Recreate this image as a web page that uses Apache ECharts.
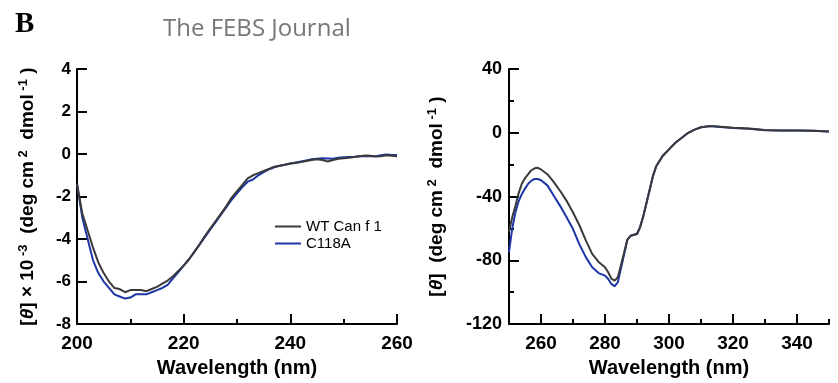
<!DOCTYPE html>
<html>
<head>
<meta charset="utf-8">
<script src="https://cdn.jsdelivr.net/npm/echarts@6/dist/echarts.min.js"></script>
<style>
  html, body { margin: 0; padding: 0; background: #fff; }
  #cd { width: 838px; height: 383px; }
</style>
</head>
<body>
<div id="cd"></div>
<script>
// far-UV CD (left panel)
const farNm = [200, 201, 202, 203, 204, 205, 206, 207, 208, 209, 210, 211, 212, 213, 214, 215, 216, 217, 218, 219, 220,
  221, 222, 223, 224, 225, 226, 227, 228, 229, 230, 231, 232, 233, 234, 235, 236, 237, 238, 239, 240,
  241, 242, 243, 244, 245, 246, 247, 248, 249, 250, 251, 252, 253, 254, 255, 256, 257, 258, 259, 260];
const farWT = [-1.4, -2.8, -3.6, -4.4, -5.1, -5.6, -6.0, -6.3, -6.35, -6.5, -6.4, -6.4, -6.4, -6.45, -6.35, -6.25, -6.1, -5.95, -5.75, -5.5, -5.25,
  -4.95, -4.6, -4.25, -3.85, -3.5, -3.15, -2.8, -2.45, -2.05, -1.75, -1.45, -1.15, -1.0, -0.9, -0.8, -0.7, -0.6, -0.55, -0.5, -0.45,
  -0.42, -0.38, -0.33, -0.28, -0.25, -0.28, -0.35, -0.28, -0.22, -0.2, -0.17, -0.14, -0.1, -0.07, -0.08, -0.12, -0.1, -0.06, -0.08, -0.1];
const farC118A = [-1.4, -3.0, -4.0, -5.0, -5.6, -6.0, -6.3, -6.6, -6.7, -6.8, -6.75, -6.6, -6.6, -6.6, -6.5, -6.4, -6.3, -6.15, -5.85, -5.55, -5.25,
  -4.95, -4.6, -4.25, -3.9, -3.55, -3.2, -2.85, -2.5, -2.15, -1.85, -1.55, -1.3, -1.2, -1.0, -0.85, -0.72, -0.62, -0.55, -0.5, -0.45,
  -0.4, -0.35, -0.3, -0.25, -0.22, -0.2, -0.21, -0.22, -0.18, -0.15, -0.14, -0.13, -0.11, -0.1, -0.1, -0.1, -0.06, -0.02, -0.04, -0.05];

// near-UV CD (right panel)
const nearNm = [250, 251, 252, 253, 254, 255, 256, 257, 258, 259, 260, 262, 264, 266, 268, 270, 272, 274, 276, 278, 280,
  281, 282, 283, 284, 285, 286, 287, 288, 289, 290, 291, 292, 293, 294, 295, 296, 298, 300, 302, 304, 306, 308, 310,
  313, 316, 320, 325, 330, 335, 340, 345, 350];
const nearWT = [-62, -53, -46, -38, -32, -28.5, -26, -23.5, -22.3, -22, -23, -26, -31, -36.5, -42.7, -50, -58, -67.5, -76, -81, -84.4,
  -87.5, -91.5, -92.7, -90.6, -83, -75, -67, -64.6, -64, -63.5, -59, -52, -43.7, -35.4, -27, -21, -14.6, -10.4, -6.3, -3.1, 0, 2, 3.5,
  4.2, 3.8, 3.1, 2.7, 1.7, 1.5, 1.5, 1.2, 0.8];
const nearC118A = [-75, -60, -50, -43, -38.5, -35, -32, -30, -29, -29, -29.8, -33, -39.5, -46, -53, -60.4, -70, -78, -84.4, -88, -89.6,
  -91.7, -94.8, -96.3, -93.75, -85, -76, -67, -64.6, -64, -63.5, -59, -52, -43.7, -35.4, -27, -21, -14.6, -10.4, -6.3, -3.1, 0, 2, 3.5,
  4.2, 3.6, 3.0, 2.5, 1.6, 1.5, 1.5, 1.2, 0.8];

const nearMajor = [260, 280, 300, 320, 340];
const nearMinor = [270, 290, 310, 330, 350];

const GRAY = '#3a3a3a';
const BLUE = '#1c36a6';
const FONT = 'Liberation Sans';

function pairs(xs, ys) {
  return xs.map((x, i) => [x, ys[i]]);
}

const xTickLabel = { color: '#000', fontFamily: FONT, fontWeight: 'bold', fontSize: 19, margin: 10 };
const yTickLabel = { color: '#000', fontFamily: FONT, fontWeight: 'bold', fontSize: 17 };
const axisLine = { show: true, onZero: false, lineStyle: { color: '#000', width: 2 } };
const tickStyle = { width: 2, color: '#000' };
const xName = { fontFamily: FONT, fontWeight: 'bold', fontSize: 20, color: '#000' };
const nameRich = {
  a: { fontFamily: FONT, fontWeight: 'bold', fontSize: 19, color: '#000', lineHeight: 22 },
  i: { fontFamily: FONT, fontWeight: 'bold', fontStyle: 'italic', fontSize: 19, color: '#000', lineHeight: 22 },
  s: { fontFamily: FONT, fontWeight: 'bold', fontSize: 13, color: '#000', verticalAlign: 'top', lineHeight: 22 },
};

const chart = echarts.init(document.getElementById('cd'));
chart.setOption({
  animation: false,
  title: [
    { text: 'B', left: 10, top: 5, textStyle: { fontFamily: 'Liberation Serif', fontWeight: 'bold', fontSize: 29, color: '#000' } },
    { text: 'The FEBS Journal', left: 158, top: 12, textStyle: { fontFamily: 'Open Sans', fontWeight: 'normal', fontSize: 24, color: '#777' } },
  ],
  legend: {
    left: 270,
    top: 214,
    orient: 'vertical',
    itemWidth: 26,
    itemHeight: 2,
    itemGap: 2,
    icon: 'rect',
    data: ['WT Can f 1', 'C118A'],
    textStyle: { fontFamily: FONT, fontSize: 15, color: '#000' },
  },
  grid: [
    { left: 77, top: 69, width: 320, height: 256 },
    { left: 509, top: 69, width: 320, height: 256 },
  ],
  xAxis: [
    {
      gridIndex: 0, type: 'value', min: 200, max: 260, interval: 20,
      name: 'Wavelength (nm)', nameLocation: 'middle', nameGap: 32, nameTextStyle: xName,
      axisLine, splitLine: { show: false },
      axisTick: { inside: true, length: 10, lineStyle: tickStyle },
      minorTick: { show: true, splitNumber: 2, length: 5, lineStyle: tickStyle },
      axisLabel: xTickLabel,
    },
    {
      gridIndex: 1, type: 'value', min: 250, max: 350,
      name: 'Wavelength (nm)', nameLocation: 'middle', nameGap: 32, nameTextStyle: xName,
      axisLine, splitLine: { show: false },
      axisTick: { inside: true, length: 10, customValues: nearMajor, lineStyle: tickStyle },
      axisLabel: { ...xTickLabel, customValues: nearMajor },
    },
    {
      gridIndex: 1, type: 'value', min: 250, max: 350, position: 'bottom',
      axisLine: { show: false, onZero: false }, splitLine: { show: false }, axisLabel: { show: false },
      axisTick: { inside: true, length: 5, customValues: nearMinor, lineStyle: tickStyle },
    },
  ],
  yAxis: [
    {
      gridIndex: 0, type: 'value', min: -8, max: 4, interval: 2,
      name: '{a|[}{i|θ}{a|] × 10}{s| -3}{a|  (deg cm}{s| 2}{a|  dmol}{s| -1}{a| )}',
      nameLocation: 'middle', nameRotate: 90, nameGap: 38,
      nameTextStyle: { rich: nameRich },
      axisLine, splitLine: { show: false },
      axisTick: { inside: true, length: 10, lineStyle: tickStyle },
      axisLabel: { ...yTickLabel, margin: 6 },
    },
    {
      gridIndex: 1, type: 'value', min: -120, max: 40, interval: 40,
      name: '{a|[}{i|θ}{a|]  (deg cm}{s| 2}{a|  dmol}{s| -1}{a| )}',
      nameLocation: 'middle', nameRotate: 90, nameGap: 61,
      nameTextStyle: { rich: nameRich },
      axisLine, splitLine: { show: false },
      axisTick: { inside: true, length: 10, lineStyle: tickStyle },
      minorTick: { show: true, splitNumber: 2, length: 5, lineStyle: tickStyle },
      axisLabel: { ...yTickLabel, fontSize: 18, margin: 7 },
    },
  ],
  series: [
    { name: 'C118A', type: 'line', xAxisIndex: 0, yAxisIndex: 0, showSymbol: false, data: pairs(farNm, farC118A), lineStyle: { color: BLUE, width: 2 }, itemStyle: { color: BLUE } },
    { name: 'WT Can f 1', type: 'line', xAxisIndex: 0, yAxisIndex: 0, showSymbol: false, data: pairs(farNm, farWT), lineStyle: { color: GRAY, width: 2 }, itemStyle: { color: GRAY } },
    { name: 'C118A', type: 'line', xAxisIndex: 1, yAxisIndex: 1, showSymbol: false, data: pairs(nearNm, nearC118A), lineStyle: { color: BLUE, width: 2 }, itemStyle: { color: BLUE } },
    { name: 'WT Can f 1', type: 'line', xAxisIndex: 1, yAxisIndex: 1, showSymbol: false, data: pairs(nearNm, nearWT), lineStyle: { color: GRAY, width: 2 }, itemStyle: { color: GRAY } },
  ],
});
</script>
</body>
</html>
